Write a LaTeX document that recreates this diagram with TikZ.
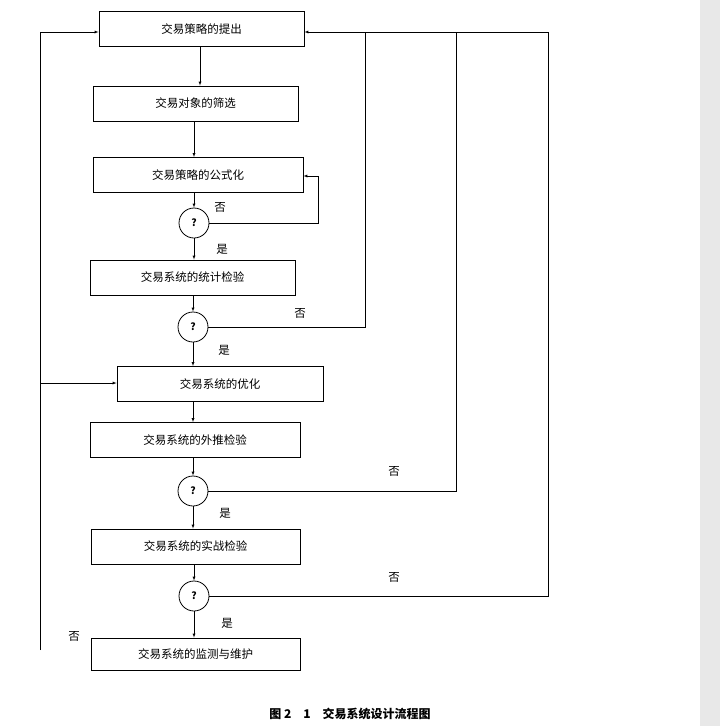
\documentclass[tikz,border=0pt]{standalone}
\usepackage{fontspec}
\setmainfont{Noto Sans CJK SC}
\usetikzlibrary{positioning}
\tikzset{
  stepbox/.style={draw, thick, minimum height=35pt, inner sep=0pt, font=\fontsize{11.5}{13}\selectfont},
  ask/.style={draw, thick, circle, minimum size=30pt, inner sep=0pt, font=\fontsize{10}{12}\selectfont\bfseries},
  lab/.style={font=\fontsize{11.5}{13}\selectfont},
  flow/.style={->, >=latex, thin}
}
\begin{document}
\begin{tikzpicture}[x=1pt, y=-1pt]
			\useasboundingbox (0,0) rectangle (720,726);
			\fill[gray!18] (700,0) rectangle (720,726);

			% boxes of the flow
			\node[stepbox, minimum width=205pt] (propose) at (201.5,29) {交易策略的提出};
			\node[stepbox, minimum width=205pt] (select) at (195.5,103.5) {交易对象的筛选};
			\node[stepbox, minimum width=210pt] (formula) at (198,175) {交易策略的公式化};
			\node[ask] (q1) at (194,223) {?};
			\node[stepbox, minimum width=205pt] (stat) at (192.5,277.5) {交易系统的统计检验};
			\node[ask] (q2) at (193,327) {?};
			\node[stepbox, minimum width=206pt] (optim) at (220,384) {交易系统的优化};
			\node[stepbox, minimum width=210pt] (extra) at (195,440) {交易系统的外推检验};
			\node[ask] (q3) at (193,491) {?};
			\node[stepbox, minimum width=209pt] (live) at (195.5,546.5) {交易系统的实战检验};
			\node[ask] (q4) at (194,596) {?};
			\node[stepbox, minimum width=209pt, minimum height=32pt] (watch) at (195.5,654) {交易系统的监测与维护};

			% main arrows down
			\draw[flow] (200,0 |- propose.south) -- (200,0 |- select.north);
			\draw[flow] (q1 |- select.south) -- (q1 |- formula.north);
			\draw[flow] (q1 |- formula.south) -- (q1);
			\draw[flow] (q1) -- (q1 |- stat.north);
			\draw[flow] (q2 |- stat.south) -- (q2);
			\draw[flow] (q2) -- (q2 |- optim.north);
			\draw[flow] (q2 |- optim.south) -- (q2 |- extra.north);
			\draw[flow] (q3 |- extra.south) -- (q3);
			\draw[flow] (q3) -- (q3 |- live.north);
			\draw[flow] (q4 |- live.south) -- (q4);
			\draw[flow] (q4) -- (q4 |- watch.north);

			% loops back on "no"
			\draw[flow] (q1.east) -| (318,176) -- (formula.east |- 0,176);
			\draw[flow] (q2.east) -| (365,32) -- (propose.east |- 0,32);
			\draw (q3.east) -| (456,32) -- (365,32);
			\draw (q4.east) -| (548,32) -- (456,32);
			\coordinate (back) at (40,650);
			\draw[flow] (back) |- (propose.west |- 0,32);
			\draw[flow] (40,383) -- (optim.west |- 0,383);

			% labels
			\node[lab] (n1) at (220,207) {否};
			\node[lab] (y1) at (222,249) {是};
			\node[lab] (n2) at (300,313) {否};
			\node[lab] (y2) at (224,350) {是};
			\node[lab] (n3) at (394,471) {否};
			\node[lab] (y3) at (225,513) {是};
			\node[lab] (n4) at (394,577) {否};
			\node[lab] (y4) at (227,623) {是};
			\node[lab] (n5) at (74,636) {否};
			\node[font=\fontsize{12}{14}\selectfont\bfseries] (title) at (350,714) {图 2\quad 1\quad 交易系统设计流程图};
		\end{tikzpicture}
\end{document}
